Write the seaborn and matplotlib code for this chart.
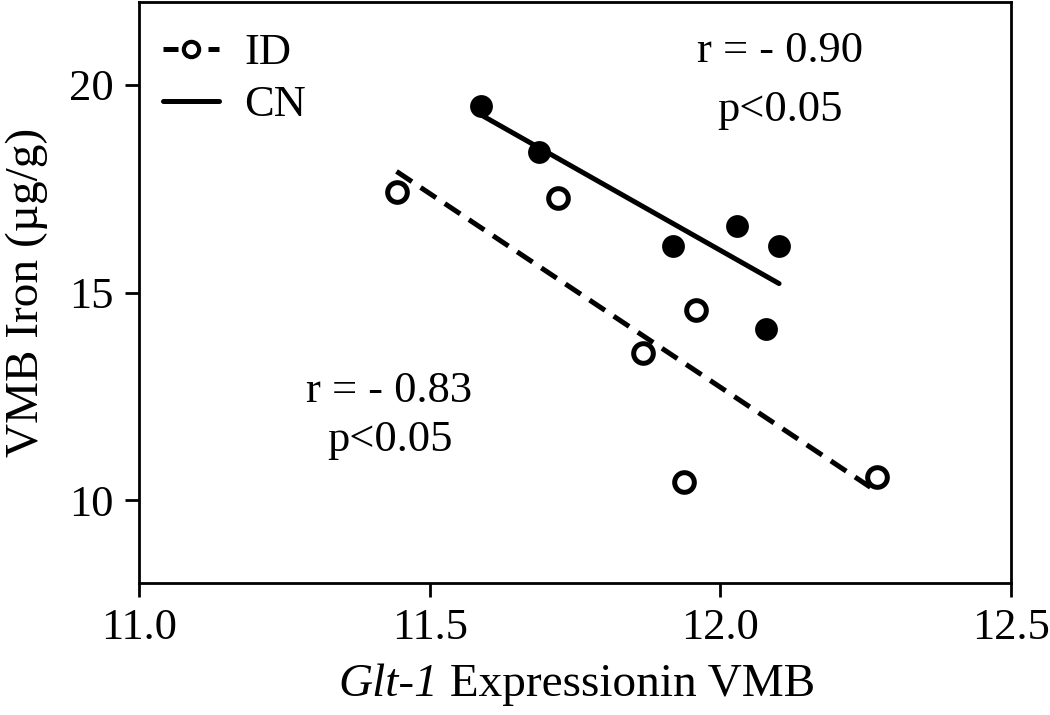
import matplotlib
matplotlib.use('Agg')
import matplotlib.pyplot as plt
from matplotlib.lines import Line2D
from matplotlib.offsetbox import TextArea, HPacker, AnchoredOffsetbox
import seaborn as sns
import pandas as pd

sns.set_theme(style='ticks')
plt.rcParams['font.family'] = ['Liberation Serif', 'DejaVu Serif']
plt.rcParams['text.color'] = 'black'
plt.rcParams['axes.labelcolor'] = 'black'

# Glt-1 expression (x) and VMB iron (y)
id_glt1 = [11.443, 11.720, 11.867, 11.958, 11.938, 12.270]
id_iron = [17.42, 17.27, 13.55, 14.59, 10.43, 10.55]
cn_glt1 = [11.589, 11.688, 11.919, 12.028, 12.101, 12.078]
cn_iron = [19.50, 18.38, 16.11, 16.61, 16.12, 14.11]
groups = ['ID', 'CN']
stats_text = {'ID': ('r = - 0.83', 'p<0.05'), 'CN': ('r = - 0.90', 'p<0.05')}

df = pd.DataFrame({
    'glt1': id_glt1 + cn_glt1,
    'iron': id_iron + cn_iron,
    'group': ['ID'] * len(id_glt1) + ['CN'] * len(cn_glt1),
})

FS = 32
LFS = 34
fig = plt.figure(figsize=(10.5, 7.15), dpi=100)
ax = fig.add_axes([139 / 1050, 1 - 583 / 715, 872 / 1050, 581 / 715])

sns.regplot(data=df[df.group == 'ID'], x='glt1', y='iron', ci=None, ax=ax, color='black',
            scatter_kws=dict(s=200, facecolors='white', edgecolors='black', linewidths=3.6,
                             alpha=1, zorder=3),
            line_kws=dict(lw=3.6, ls=(0, (3.7, 2.1)), zorder=2))
sns.regplot(data=df[df.group == 'CN'], x='glt1', y='iron', ci=None, ax=ax, color='black',
            scatter_kws=dict(s=270, linewidths=0, alpha=1, zorder=3),
            line_kws=dict(lw=3.6, zorder=2))

ax.set_xlim(11.0, 12.5)
ax.set_ylim(8, 22)
ax.set_xticks([11.0, 11.5, 12.0, 12.5])
ax.set_xticklabels(['11.0', '11.5', '12.0', '12.5'])
ax.set_yticks([10, 15, 20])
for s in ax.spines.values():
    s.set_linewidth(2)
    s.set_color('black')
ax.tick_params(axis='both', direction='out', length=10, width=2, labelsize=FS,
               colors='black', pad=8)

# x label: italic gene name followed by upright text
ax.set_xlabel('')
xlab = HPacker(children=[TextArea('Glt-1', textprops=dict(fontsize=LFS, style='italic')),
                         TextArea(' Expressionin VMB', textprops=dict(fontsize=LFS))],
               align='baseline', pad=0, sep=0)
fig.add_artist(AnchoredOffsetbox(loc='lower center', child=xlab, frameon=False, borderpad=0,
                                 bbox_to_anchor=(577 / 1050, 3 / 715),
                                 bbox_transform=fig.transFigure))
ax.set_ylabel('VMB Iron (µg/g)', fontsize=LFS, labelpad=15)

# correlation annotations
ax.text(12.103, 20.55, stats_text['CN'][0], fontsize=FS, ha='center', va='baseline')
ax.text(12.103, 19.14, stats_text['CN'][1], fontsize=FS, ha='center', va='baseline')
ax.text(11.431, 12.37, stats_text['ID'][0], fontsize=FS, ha='center', va='baseline')
ax.text(11.431, 11.17, stats_text['ID'][1], fontsize=FS, ha='center', va='baseline')

handles = [
    Line2D([], [], color='black', lw=3.6, ls=(0, (3, 6)), marker='o', ms=11,
           mfc='white', mec='black', mew=3),
    Line2D([], [], color='black', lw=3.6),
]
ax.legend(handles, groups, loc='upper left', frameon=False, fontsize=FS,
          handlelength=1.27, handletextpad=0.55, borderaxespad=0, borderpad=0,
          labelspacing=0.27, bbox_to_anchor=(24 / 872, 1 - 31 / 581))

fig.savefig('out.png', dpi=100)
